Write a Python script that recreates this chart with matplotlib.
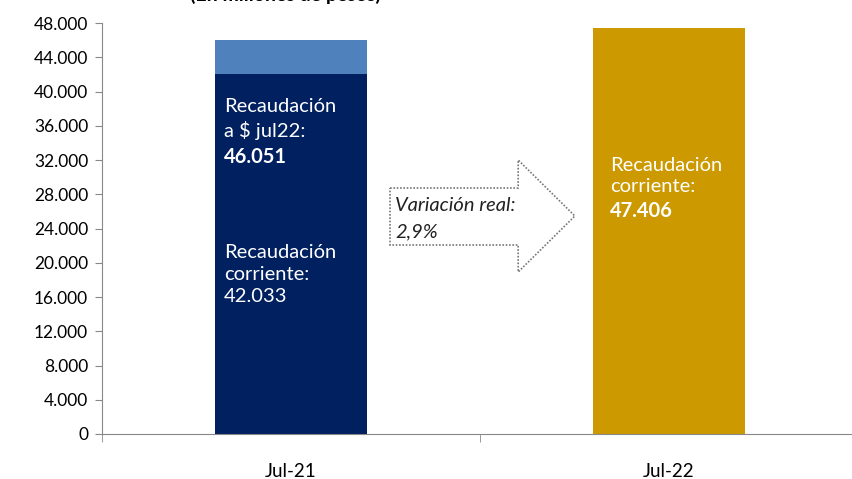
import matplotlib.pyplot as plt
from matplotlib.patches import Polygon
from matplotlib.ticker import FuncFormatter, FixedLocator
import numpy as np

plt.rcParams['font.family'] = ['Lato', 'DejaVu Sans']

categories = ['Jul-21', 'Jul-22']
corriente = [42033, 47406]
ajuste_real = [46051 - 42033, 0]
yticks = list(range(0, 48001, 4000))

navy = '#002060'
lightblue = '#4F81BD'
gold = '#CC9900'

fig = plt.figure(figsize=(8.52, 4.79), dpi=100)
ax = fig.add_axes([102/852, 45/479, 750/852, 411/479])

x = np.arange(len(categories))
ax.bar(x, corriente, width=0.4, color=[navy, gold])
ax.bar(x[:1], ajuste_real[:1], bottom=corriente[:1], width=0.4, color=lightblue)

ax.set_xlim(-0.5, -0.5 + 750/378)
ax.set_ylim(0, 48000)
ax.set_yticks(yticks)
ax.yaxis.set_major_formatter(FuncFormatter(lambda v, p: f'{int(v):,}'.replace(',', '.')))
ax.tick_params(axis='y', labelsize=12.5, length=5, color='#888888', direction='out', pad=5)

ax.set_xticks(x)
ax.set_xticklabels(categories)
ax.tick_params(axis='x', which='major', length=0, pad=21, labelsize=13.5)
ax.xaxis.set_minor_locator(FixedLocator([-0.5, 0.5, 1.5]))
ax.tick_params(axis='x', which='minor', length=6, color='#888888', direction='out')

for s in ['top', 'right']:
    ax.spines[s].set_visible(False)
for s in ['left', 'bottom']:
    ax.spines[s].set_color('#888888')

def ty(py):
    return (434 - py) / 411 * 48000

fs = 14.5
# texto barra 1
tx1 = -0.178
ax.text(tx1, ty(107), 'Recaudación', color='white', fontsize=fs, va='center')
ax.text(tx1, ty(130), 'a $ jul22:', color='white', fontsize=fs, va='center')
ax.text(tx1, ty(157), '46.051', color='white', fontsize=fs, va='center', fontweight='bold')
ax.text(tx1, ty(252), 'Recaudación', color='white', fontsize=fs, va='center')
ax.text(tx1, ty(275), 'corriente:', color='white', fontsize=fs, va='center')
ax.text(tx1, ty(297), '42.033', color='white', fontsize=fs, va='center')

# texto barra 2
tx2 = 1 - 0.156
ax.text(tx2, ty(165), 'Recaudación', color='white', fontsize=fs, va='center')
ax.text(tx2, ty(187), 'corriente:', color='white', fontsize=fs, va='center')
ax.text(tx2, ty(211), '47.406', color='white', fontsize=fs, va='center', fontweight='bold')

# flecha
ax_ = [0.262, 0.601, 0.601, 0.751, 0.601, 0.601, 0.262]
ay_ = [ty(188), ty(188), ty(160), ty(216), ty(272), ty(245), ty(245)]
arrow = Polygon(list(zip(ax_, ay_)), closed=True, facecolor='white',
                edgecolor='#777777', linestyle=(0, (1, 1)), linewidth=1.2)
ax.add_patch(arrow)
ax.text(0.275, ty(205), 'Variación real:', fontsize=fs, style='italic', va='center', color='#222222')
ax.text(0.275, ty(232), '2,9%', fontsize=fs, style='italic', va='center', color='#222222')

fig.text(285/852, 1 - 1/479, '(En millones de pesos)', ha='center', va='baseline',
         fontsize=14, fontweight='bold')

fig.savefig('out.png', dpi=100)
